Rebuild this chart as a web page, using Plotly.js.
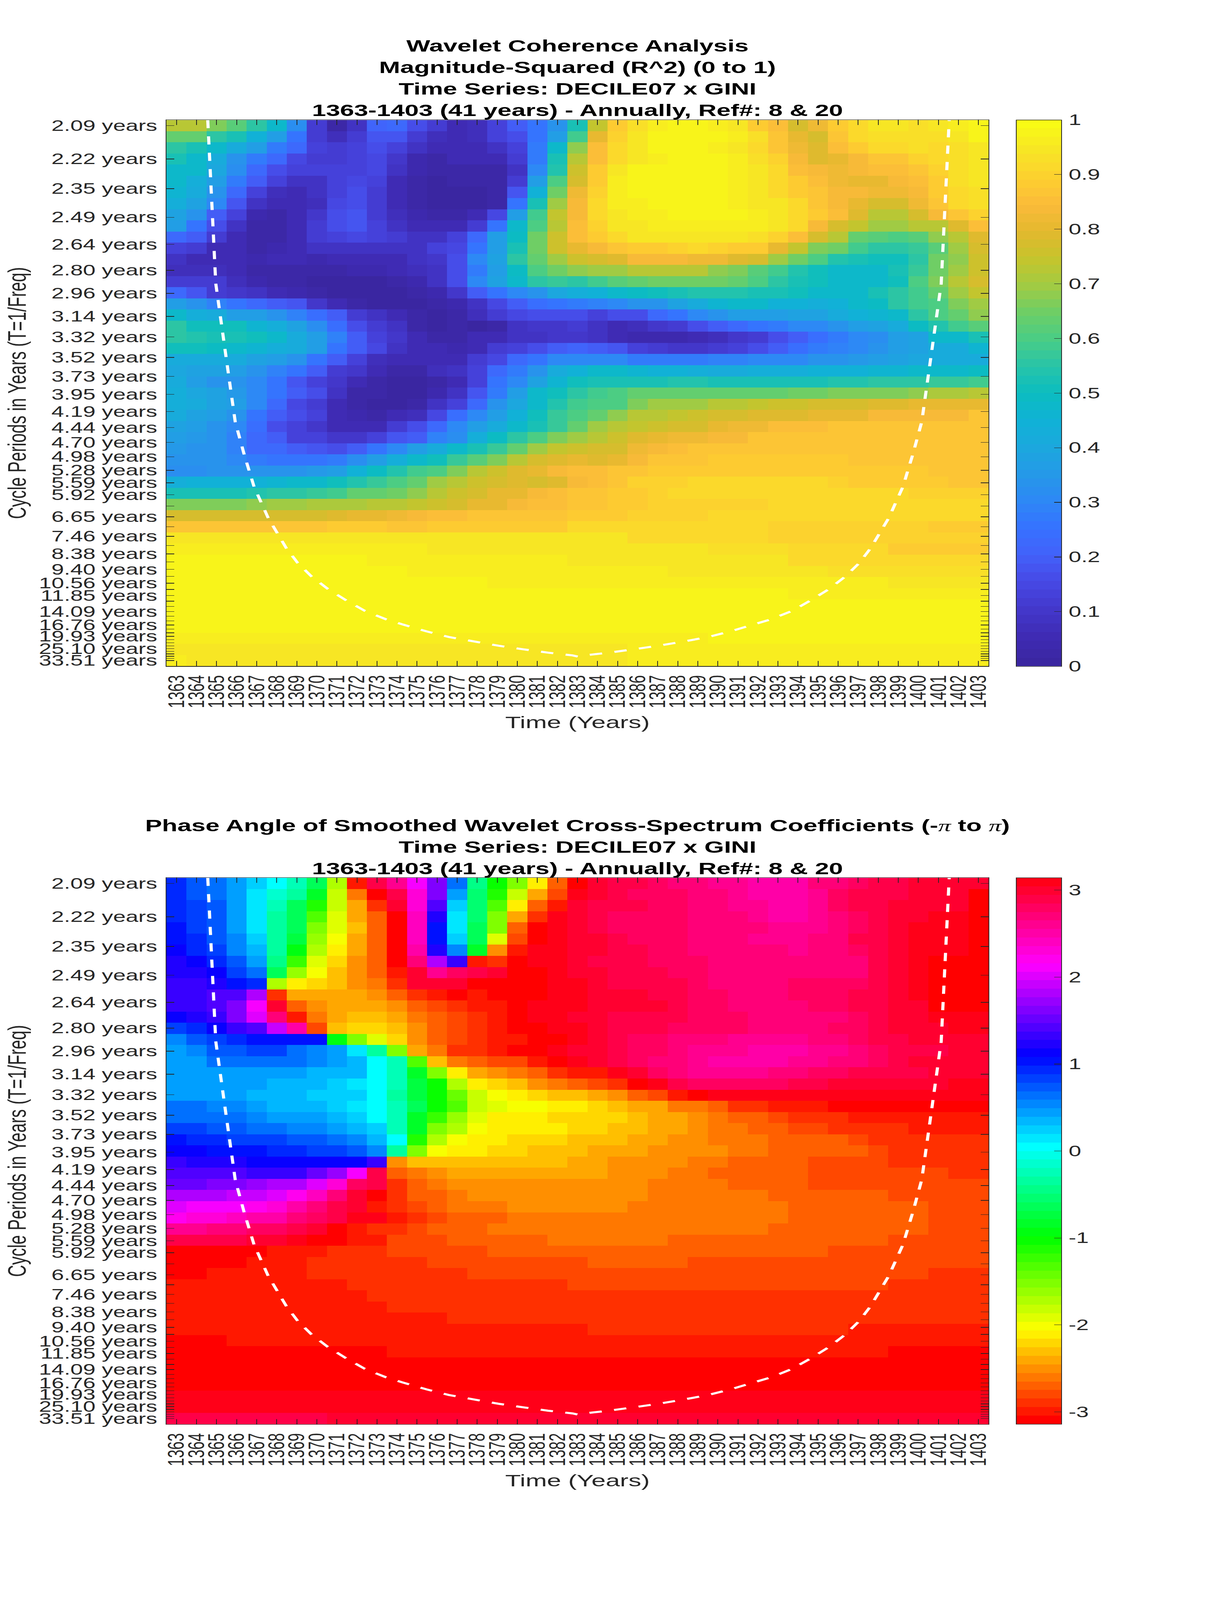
<!DOCTYPE html>
<html>
<head>
<meta charset="utf-8">
<script src="https://cdn.plot.ly/plotly-3.0.1.min.js"></script>
<style>
html,body{margin:0;padding:0;background:#fff;}
#page{width:3125px;height:6252px;transform-origin:0 0;}
#chartA,#chartB{display:block;width:3125px;height:3126px;}
</style>
</head>
<body>
<div id="page">
<div id="chartA"></div>
<div id="chartB"></div>
</div>
<script>
// Time axis (years)
const years=[1363,1364,1365,1366,1367,1368,1369,1370,1371,1372,1373,1374,1375,1376,1377,1378,1379,1380,1381,1382,1383,1384,1385,1386,1387,1388,1389,1390,1391,1392,1393,1394,1395,1396,1397,1398,1399,1400,1401,1402,1403];
// Cycle periods (years) of the 49 wavelet scales
const periods=[2.09,2.22,2.35,2.49,2.64,2.80,2.96,3.14,3.32,3.52,3.73,3.95,4.19,4.44,4.70,4.98,5.28,5.59,5.92,6.27,6.65,7.04,7.46,7.91,8.38,8.88,9.40,9.96,10.56,11.18,11.85,12.55,13.30,14.09,14.93,15.82,16.76,17.76,18.81,19.93,21.12,22.37,23.70,25.10,26.60,28.18,29.86,31.63,33.51];
const labelledPeriods=[2.09,2.22,2.35,2.49,2.64,2.80,2.96,3.14,3.32,3.52,3.73,3.95,4.19,4.44,4.70,4.98,5.28,5.59,5.92,6.65,7.46,8.38,9.40,10.56,11.85,14.09,16.76,19.93,25.10,33.51];

// Cone of influence
const coiYears=[1364.56,1364.96,1365.47,1365.93,1366.37,1366.87,1367.57,1368.48,1369.05,1369.73,1370.55,1371.47,1372.40,1373.46,1374.25,1375.48,1376.59,1377.82,1379.06,1380.30,1381.53,1382.75,1383.05,1383.35,1384.57,1385.80,1387.04,1388.28,1389.51,1390.62,1391.85,1392.64,1393.70,1394.63,1395.55,1396.37,1397.05,1397.62,1398.53,1399.23,1399.73,1400.17,1400.63,1401.14,1401.54];
const coiFreq=[0.4832,0.3460,0.2848,0.2301,0.2031,0.1756,0.1496,0.1241,0.1116,0.1005,0.0899,0.0803,0.0715,0.0644,0.0603,0.0543,0.0496,0.0458,0.0423,0.0393,0.0365,0.0342,0.0331,0.0342,0.0365,0.0393,0.0423,0.0458,0.0496,0.0543,0.0603,0.0644,0.0715,0.0803,0.0899,0.1005,0.1116,0.1241,0.1496,0.1756,0.2031,0.2301,0.2848,0.3460,0.4832];

// Magnitude-squared coherence, percent; one row per scale, top to bottom
const coh01=[73,72,67,62,56,47,32,12,3,9,21,22,16,11,5,7,13,20,25,33,52,74,88,93,96,97,97,96,95,88,85,78,82,88,92,94,94,93,94,96,98];
const coh02=[64,63,56,52,44,36,25,12,7,12,18,18,12,7,5,7,13,17,26,37,59,80,90,94,97,97,97,97,96,93,87,80,78,86,92,93,93,93,93,95,97];
const coh03=[56,52,47,42,36,28,22,13,11,13,16,14,8,6,6,5,9,14,27,47,68,85,91,94,97,97,97,96,95,92,87,82,79,85,89,91,92,93,92,93,95];
const coh04=[53,47,41,33,28,23,15,12,12,14,15,10,4,3,5,5,5,11,27,53,72,85,92,94,96,98,98,97,96,93,90,83,79,81,84,87,87,90,91,93,95];
const coh05=[48,47,40,32,23,17,14,14,13,14,15,9,4,2,3,3,3,9,30,54,75,89,95,97,98,98,98,97,96,95,91,85,83,82,83,85,85,87,90,93,95];
const coh06=[47,43,36,27,20,13,9,9,13,15,13,6,3,1,2,3,3,12,36,60,78,89,96,97,97,97,97,97,96,94,92,88,85,82,81,81,84,85,89,93,95];
const coh07=[46,41,33,23,14,7,6,9,14,16,12,6,3,1,1,1,2,18,45,65,82,90,96,97,97,98,98,97,96,94,92,89,87,84,83,82,82,84,89,92,93];
const coh08=[43,38,31,18,9,5,5,7,15,17,11,6,3,1,1,1,3,25,52,70,84,91,96,96,97,97,97,97,96,95,94,91,87,83,80,77,77,82,87,91,93];
const coh09=[39,33,20,13,4,2,5,10,16,18,12,7,4,3,3,6,15,37,58,74,84,91,95,96,96,97,97,97,97,96,95,92,88,85,79,73,73,77,83,86,90];
const coh10=[36,26,16,9,2,2,5,11,16,18,13,8,5,5,5,12,25,47,60,73,85,90,94,95,96,96,96,96,96,96,94,92,84,77,74,70,69,72,73,79,85];
const coh11=[22,19,11,5,2,2,6,12,14,15,13,12,8,8,13,23,37,49,65,76,85,88,92,94,94,94,94,94,94,93,90,85,77,72,64,62,60,61,68,73,79];
const coh12=[13,12,6,5,3,4,6,8,9,9,9,8,8,13,15,25,37,53,65,76,80,84,87,88,89,90,91,90,89,89,80,74,67,65,58,56,55,57,62,70,78];
const coh13=[9,6,5,5,4,5,5,4,5,6,6,6,8,10,17,30,38,56,64,70,75,78,79,83,83,83,82,82,79,77,70,65,60,54,53,51,50,55,65,68,76];
const coh14=[7,7,7,5,2,2,3,3,3,4,4,5,7,9,16,28,37,49,60,65,68,70,70,72,72,72,72,68,67,62,58,54,50,47,47,47,52,57,65,70,76];
const coh15=[12,12,11,7,4,3,2,1,1,1,1,3,4,8,17,30,39,47,55,57,56,58,62,64,65,65,65,65,63,60,56,53,50,48,48,48,50,60,67,72,78];
const coh16=[22,18,12,10,8,6,4,2,1,1,1,1,2,4,10,20,26,30,34,40,43,45,48,49,50,53,54,54,54,52,52,50,48,47,47,52,55,58,63,69,74];
const coh17=[36,34,29,26,23,20,18,10,6,3,1,1,1,3,4,8,15,20,24,25,28,29,31,34,34,38,42,46,47,47,45,44,43,45,47,49,55,58,60,66,70];
const coh18=[47,43,42,37,36,33,29,24,19,12,8,5,2,1,3,7,12,15,16,17,17,14,16,17,22,25,30,33,36,37,37,38,39,41,44,46,47,56,60,63,68];
const coh19=[55,50,50,50,46,43,38,32,24,17,12,8,3,1,2,1,3,8,10,10,11,8,6,7,10,12,16,20,22,26,28,30,31,33,36,39,42,49,54,58,61];
const coh20=[56,54,53,52,50,47,41,36,29,20,14,10,5,3,3,5,5,8,9,10,10,8,5,4,4,4,5,7,10,12,17,20,24,28,30,32,36,39,48,48,53];
const coh21=[50,50,49,48,46,43,41,37,26,20,15,9,5,5,4,6,12,14,17,20,21,20,18,14,12,10,10,12,14,16,20,24,27,29,31,34,36,38,41,42,46];
const coh22=[42,42,42,41,38,36,33,26,19,14,7,5,5,5,6,12,15,22,26,30,31,31,30,28,28,27,27,29,29,30,30,31,33,33,35,37,38,40,41,41,42];
const coh23=[40,39,38,36,33,29,25,20,12,10,5,2,3,7,8,13,23,28,34,41,44,47,48,46,45,44,43,42,42,43,43,43,44,44,45,46,46,47,47,47,49];
const coh24=[42,37,34,33,30,26,18,14,10,6,3,1,1,3,6,14,26,31,39,46,50,52,53,53,53,54,54,53,53,52,52,53,53,54,54,55,55,56,57,57,59];
const coh25=[43,40,38,35,30,26,20,16,8,3,2,1,1,4,9,18,27,37,47,50,56,58,60,64,64,64,63,63,63,63,63,65,65,66,67,67,67,68,71,71,73];
const coh26=[43,41,38,37,30,22,15,12,5,2,1,1,2,9,14,22,33,40,47,54,58,60,60,66,69,70,70,72,73,74,75,76,77,77,78,79,79,80,80,80,81];
const coh27=[41,38,36,33,26,20,17,13,5,4,2,6,7,15,24,30,37,44,50,57,60,63,68,72,73,74,75,77,77,79,79,79,81,81,81,84,84,84,84,84,86];
const coh28=[38,36,34,30,24,17,13,10,6,6,6,12,16,23,30,37,42,48,52,57,63,69,72,74,75,77,78,80,82,82,85,85,85,86,86,86,86,86,86,87,87];
const coh29=[37,35,33,29,22,19,14,13,10,10,13,18,20,29,32,43,49,55,60,66,70,72,76,79,80,82,82,84,84,86,86,86,87,87,87,87,87,87,87,87,86];
const coh30=[35,34,33,29,23,22,20,18,17,20,25,30,37,41,47,53,57,63,69,74,76,77,78,82,84,85,86,87,87,87,87,87,87,87,87,87,87,87,87,86,86];
const coh31=[34,33,33,31,27,26,26,25,27,32,36,43,47,50,57,61,67,72,77,79,81,79,80,83,86,86,86,88,89,89,89,89,89,89,87,87,87,87,87,87,86];
const coh32=[32,32,33,34,34,34,34,35,37,44,49,54,59,60,66,72,76,79,80,84,85,85,87,87,89,89,89,89,89,89,89,89,89,89,89,89,89,88,87,87,86];
const coh33=[43,44,44,45,45,46,47,48,50,54,57,60,64,69,72,75,77,79,77,79,83,85,86,90,90,90,91,91,91,91,91,91,91,90,89,89,89,89,88,87,87];
const coh34=[53,53,53,53,54,55,56,57,59,63,63,65,68,72,75,77,80,81,83,85,87,87,88,89,90,91,91,91,91,91,91,91,91,91,91,91,91,90,90,90,90];
const coh35=[66,66,66,67,68,69,70,71,71,71,72,73,74,75,77,80,81,83,85,85,87,87,89,89,90,90,90,90,90,90,91,91,91,91,91,91,91,91,91,91,91];
const coh36=[77,77,77,77,77,77,77,78,79,80,81,82,84,85,85,86,87,87,87,87,88,88,89,90,90,90,90,92,92,92,92,92,92,91,91,91,91,91,91,91,91];
const coh37=[86,86,86,86,86,86,86,86,88,88,88,87,87,89,89,89,89,89,89,89,91,91,91,91,91,91,91,91,91,91,90,90,90,90,90,90,90,90,88,88,88];
const coh38=[94,94,94,94,94,94,94,94,94,94,94,94,94,94,94,94,94,94,94,94,94,94,94,92,92,92,92,92,92,92,90,90,90,90,90,90,90,90,90,90,90];
const coh39=[96,96,96,96,96,96,96,96,96,96,96,96,96,95,95,95,95,95,95,95,95,94,94,94,94,94,94,93,93,93,93,91,91,91,91,91,89,89,89,89,89];
const coh40=[98,98,98,98,98,98,98,98,98,98,96,96,96,96,96,96,96,96,96,96,95,95,95,95,95,95,94,94,94,94,94,92,92,92,92,92,92,92,91,91,91];
const coh41=[98,98,98,98,98,98,98,98,98,98,98,98,96,96,96,96,96,96,96,96,96,96,96,96,96,95,95,95,95,95,95,95,95,93,93,93,93,93,93,93,93];
const coh42=[98,98,98,98,98,98,98,98,98,98,98,98,98,98,98,98,96,96,96,96,96,96,96,96,96,96,96,96,96,96,96,96,96,96,96,96,95,95,95,95,95];
const coh43=[98,98,98,98,98,98,98,98,98,98,98,98,98,98,98,98,98,98,98,98,98,98,98,98,98,98,98,98,98,98,98,96,96,96,96,96,96,96,96,96,96];
const coh44=[98,98,98,98,98,98,98,98,98,98,98,98,98,98,98,98,98,98,98,98,98,98,98,98,98,98,98,98,98,98,98,98,98,98,98,98,98,98,98,98,98];
const coh45=[98,98,98,98,98,98,98,98,98,98,98,98,98,98,98,98,98,98,98,98,98,98,98,98,98,98,98,98,98,98,98,98,98,98,98,98,98,98,98,98,98];
const coh46=[98,98,98,98,98,98,98,98,98,98,98,98,98,98,98,98,98,98,98,98,98,98,98,98,98,98,98,98,98,98,98,98,98,98,98,98,98,98,98,98,98];
const coh47=[96,96,96,96,96,96,96,96,96,96,96,96,96,96,96,96,96,96,96,96,96,96,96,96,96,96,96,98,98,98,98,98,98,98,98,98,98,98,98,98,98];
const coh48=[95,95,95,95,95,95,95,95,95,95,95,95,95,95,95,95,95,95,95,95,95,95,95,96,96,96,96,96,96,96,96,96,96,96,96,96,96,96,96,96,96];
const coh49=[96,94,94,94,94,94,94,94,94,94,94,94,94,94,94,94,94,94,94,94,94,94,94,96,96,96,96,96,96,96,96,96,96,96,96,96,96,96,96,96,96];

// Phase angle, tenths of a radian; one row per scale, top to bottom
const pha01=[9,7,6,4,2,0,-2,-6,-17,-30,29,26,21,16,6,-4,-10,-15,-21,-27,-31,30,29,29,28,27,27,26,26,25,25,25,27,27,28,29,29,30,30,30,30];
const pha02=[9,7,6,4,1,-1,-3,-8,-18,-26,-31,29,23,16,4,-5,-11,-18,-24,-28,31,30,29,28,28,28,27,27,26,25,25,25,26,28,29,29,29,30,30,30,-31];
const pha03=[9,8,7,4,1,-2,-6,-11,-18,-24,-29,30,23,14,2,-5,-13,-21,-27,-30,30,29,29,29,28,28,27,27,26,26,25,25,26,28,29,29,30,30,30,30,-31];
const pha04=[9,8,7,4,1,-3,-6,-13,-19,-24,-27,-31,24,12,1,-5,-15,-24,-29,31,30,29,28,28,28,28,27,27,27,26,25,25,26,27,28,29,30,30,31,31,-31];
const pha05=[10,8,7,4,1,-3,-6,-15,-19,-23,-27,-31,24,10,1,-6,-15,-27,-31,31,30,29,28,28,28,28,27,27,27,27,26,26,26,27,28,29,30,31,31,31,-31];
const pha06=[10,9,7,5,2,-3,-7,-16,-20,-24,-27,-31,24,10,2,-6,-19,-28,-31,31,30,30,29,28,28,28,27,27,27,26,26,26,27,27,29,29,30,31,31,31,-31];
const pha07=[11,9,8,5,3,-3,-9,-17,-21,-24,-27,-31,25,12,5,-8,-25,-30,31,31,30,30,29,29,28,28,27,27,27,27,27,26,27,27,28,29,30,31,31,31,-31];
const pha08=[12,11,9,7,4,-4,-12,-19,-22,-25,-27,-31,27,18,13,-30,-29,-31,31,31,30,29,29,29,28,28,28,27,27,27,27,27,27,27,27,29,30,31,-31,-31,-31];
const pha09=[12,12,11,8,6,-6,-16,-20,-23,-25,-27,-30,30,26,28,29,30,-31,-31,31,30,30,29,29,29,28,28,27,27,27,27,27,27,27,27,29,30,31,-31,-31,-31];
const pha10=[13,13,12,10,9,-17,-21,-22,-23,-25,-26,-29,30,30,30,-31,-31,-31,-31,31,31,30,29,29,29,29,28,27,27,27,27,28,28,28,28,29,30,31,-31,-31,-31];
const pha11=[13,13,14,14,18,-29,-24,-24,-24,-24,-25,-27,-29,-30,-31,-30,-31,-31,-31,31,31,30,30,30,29,29,28,28,27,27,27,28,28,28,29,29,30,31,-31,-31,-31];
const pha12=[13,13,14,16,21,30,-27,-25,-24,-24,-24,-25,-27,-28,-29,-30,-30,-31,31,31,31,30,30,30,30,29,28,28,27,27,27,27,28,28,29,29,30,30,-31,-31,-31];
const pha13=[11,12,13,16,20,27,-30,-26,-24,-23,-23,-24,-26,-27,-28,-29,-30,-31,31,31,30,30,29,29,29,29,28,28,28,27,27,27,27,27,28,29,30,30,31,31,31];
const pha14=[8,9,11,13,14,19,25,-28,-23,-22,-22,-23,-25,-27,-28,-29,-30,-31,-31,31,31,30,29,29,29,28,28,28,28,27,27,27,27,28,28,29,30,30,30,31,31];
const pha15=[5,7,8,9,10,10,10,10,-9,-15,-19,-22,-25,-27,-28,-29,-30,-30,-31,-31,31,30,29,28,28,27,27,27,26,26,26,26,27,27,28,29,29,30,30,30,30];
const pha16=[4,5,7,7,8,8,6,5,4,1,-3,-15,-24,-26,-29,-29,-30,-31,-31,31,30,30,29,28,28,27,26,26,26,25,25,25,26,26,27,28,29,29,29,30,30];
const pha17=[4,4,6,6,6,6,6,5,4,3,0,-2,-13,-23,-26,-27,-28,-28,-30,-31,31,30,29,28,27,27,26,25,25,25,25,26,26,27,27,28,29,30,30,30,30];
const pha18=[4,4,4,4,4,4,4,3,3,3,0,-2,-8,-15,-21,-24,-25,-26,-27,-29,-30,-30,31,30,28,27,26,26,26,26,27,27,28,28,29,29,29,29,30,30,30];
const pha19=[4,4,4,4,4,3,3,3,2,1,0,-2,-7,-10,-17,-21,-22,-23,-25,-26,-27,-28,-29,-31,31,29,28,28,28,28,28,29,29,30,30,30,30,30,30,31,31];
const pha20=[4,4,4,4,3,3,3,2,2,2,0,-3,-7,-10,-14,-18,-20,-21,-22,-23,-23,-24,-25,-27,-28,-30,-31,31,31,31,31,31,31,31,31,31,31,31,31,31,31];
const pha21=[6,6,5,5,4,3,3,3,2,1,0,-2,-6,-10,-13,-18,-19,-20,-20,-21,-21,-22,-23,-24,-24,-26,-26,-27,-29,-29,-30,-30,-30,-31,-31,-31,-31,-31,-31,-31,-31];
const pha22=[6,6,6,6,5,4,4,4,3,2,0,-2,-8,-12,-16,-19,-21,-21,-21,-22,-22,-22,-22,-23,-24,-24,-25,-26,-27,-27,-28,-29,-29,-29,-30,-30,-30,-30,-30,-30,-30];
const pha23=[8,8,7,7,6,6,5,5,4,3,2,-2,-8,-15,-17,-20,-21,-21,-21,-21,-22,-22,-23,-23,-24,-24,-25,-26,-26,-27,-27,-28,-28,-29,-29,-29,-29,-30,-30,-30,-30];
const pha24=[10,9,9,8,8,8,7,7,6,5,3,0,-11,-17,-20,-21,-21,-22,-22,-22,-23,-23,-23,-24,-24,-25,-25,-26,-26,-26,-27,-27,-27,-27,-28,-29,-29,-29,-29,-29,-29];
const pha25=[11,11,10,10,10,9,9,8,8,7,5,-3,-15,-20,-21,-21,-22,-22,-23,-23,-23,-24,-24,-24,-25,-25,-25,-25,-26,-26,-27,-27,-27,-27,-27,-28,-29,-29,-29,-29,-29];
const pha26=[13,12,12,12,11,11,11,11,11,11,13,-25,-23,-23,-23,-23,-23,-23,-23,-23,-24,-24,-25,-25,-25,-25,-26,-26,-27,-27,-27,-27,-28,-28,-28,-28,-29,-29,-29,-29,-29];
const pha27=[14,14,14,14,13,13,13,15,17,21,29,-27,-26,-25,-24,-24,-24,-24,-24,-24,-24,-24,-25,-25,-25,-26,-26,-27,-27,-27,-27,-27,-28,-28,-28,-28,-28,-28,-28,-29,-29];
const pha28=[15,15,16,16,17,18,18,20,23,28,29,-29,-27,-26,-25,-25,-25,-25,-25,-25,-25,-25,-25,-25,-26,-26,-26,-26,-27,-27,-27,-27,-28,-28,-28,-28,-28,-28,-28,-28,-28];
const pha29=[18,18,18,19,19,20,22,24,27,30,-31,-29,-27,-27,-26,-25,-25,-25,-25,-25,-25,-25,-25,-25,-26,-26,-26,-26,-26,-26,-27,-27,-27,-27,-27,-27,-28,-28,-28,-28,-28];
const pha30=[20,21,21,21,22,23,25,27,29,30,-30,-29,-28,-27,-26,-26,-26,-25,-25,-25,-25,-25,-25,-26,-26,-26,-26,-26,-26,-26,-26,-27,-27,-27,-27,-27,-27,-27,-28,-28,-28];
const pha31=[22,23,23,24,25,25,27,28,29,31,31,-30,-29,-28,-27,-27,-27,-26,-26,-26,-26,-26,-26,-26,-26,-26,-26,-26,-26,-26,-26,-27,-27,-27,-27,-27,-27,-27,-28,-28,-28];
const pha32=[26,26,27,27,28,28,29,30,-31,-30,-29,-29,-28,-27,-27,-27,-26,-26,-26,-26,-26,-26,-26,-26,-26,-26,-26,-26,-26,-26,-27,-27,-27,-27,-27,-27,-27,-27,-28,-28,-28];
const pha33=[29,29,29,29,30,30,31,-31,-31,-30,-30,-28,-28,-28,-27,-27,-27,-27,-27,-26,-26,-26,-26,-26,-26,-27,-27,-27,-27,-27,-27,-27,-27,-27,-27,-27,-28,-28,-28,-28,-28];
const pha34=[-31,-31,-31,-31,-31,-30,-30,-30,-29,-29,-29,-28,-28,-28,-28,-28,-27,-27,-27,-27,-27,-27,-27,-27,-27,-27,-27,-27,-27,-27,-27,-27,-27,-28,-28,-28,-28,-28,-28,-28,-28];
const pha35=[-31,-31,-31,-31,-30,-30,-30,-29,-29,-29,-29,-29,-29,-28,-28,-28,-28,-28,-28,-28,-28,-27,-27,-27,-27,-27,-28,-28,-28,-28,-28,-28,-28,-28,-28,-28,-28,-28,-28,-28,-28];
const pha36=[-31,-31,-30,-30,-30,-30,-30,-29,-29,-29,-29,-29,-29,-29,-29,-28,-28,-28,-28,-28,-28,-28,-28,-28,-28,-28,-28,-28,-28,-28,-28,-28,-28,-28,-28,-28,-28,-28,-29,-29,-29];
const pha37=[-30,-30,-30,-30,-30,-30,-30,-30,-30,-29,-29,-29,-29,-29,-29,-29,-29,-29,-29,-29,-28,-28,-28,-28,-28,-28,-28,-28,-28,-28,-28,-28,-28,-28,-28,-28,-29,-29,-29,-29,-29];
const pha38=[-30,-30,-30,-30,-30,-30,-30,-30,-30,-30,-29,-29,-29,-29,-29,-29,-29,-29,-29,-29,-29,-29,-29,-29,-29,-29,-29,-29,-29,-29,-29,-29,-29,-29,-29,-29,-29,-29,-29,-29,-29];
const pha39=[-30,-30,-30,-30,-30,-30,-30,-30,-30,-30,-30,-29,-29,-29,-29,-29,-29,-29,-29,-29,-29,-29,-29,-29,-29,-29,-29,-29,-29,-29,-29,-29,-29,-29,-29,-29,-29,-29,-29,-29,-29];
const pha40=[-30,-30,-30,-30,-30,-30,-30,-30,-30,-30,-30,-30,-30,-30,-29,-29,-29,-29,-29,-29,-29,-29,-29,-29,-29,-29,-29,-29,-29,-29,-29,-29,-29,-29,-29,-29,-29,-29,-29,-29,-29];
const pha41=[-30,-30,-30,-30,-30,-30,-30,-30,-30,-30,-30,-30,-30,-30,-30,-30,-30,-30,-30,-30,-30,-29,-29,-29,-29,-29,-29,-29,-29,-29,-29,-29,-29,-29,-30,-30,-30,-30,-30,-30,-30];
const pha42=[-31,-31,-31,-30,-30,-30,-30,-30,-30,-30,-30,-30,-30,-30,-30,-30,-30,-30,-30,-30,-30,-30,-30,-30,-30,-30,-30,-30,-30,-30,-30,-30,-30,-30,-30,-30,-30,-30,-30,-30,-30];
const pha43=[-31,-31,-31,-31,-31,-31,-31,-31,-31,-31,-31,-30,-30,-30,-30,-30,-30,-30,-30,-30,-30,-30,-30,-30,-30,-30,-30,-30,-30,-30,-30,-30,-30,-30,-30,-30,-31,-31,-31,-31,-31];
const pha44=[-31,-31,-31,-31,-31,-31,-31,-31,-31,-31,-31,-31,-31,-31,-31,-31,-31,-31,-31,-31,-31,-31,-31,-31,-31,-31,-31,-31,-31,-31,-31,-31,-31,-31,-31,-31,-31,-31,-31,-31,-31];
const pha45=[-31,-31,-31,-31,-31,-31,-31,-31,-31,-31,-31,-31,-31,-31,-31,-31,-31,-31,-31,-31,-31,-31,-31,-31,-31,-31,-31,-31,-31,-31,-31,-31,-31,-31,-31,-31,-31,-31,-31,-31,-31];
const pha46=[-31,-31,-31,-31,-31,-31,-31,-31,-31,-31,-31,-31,-31,-31,-31,-31,-31,-31,-31,-31,-31,-31,-31,-31,-31,-31,-31,-31,-31,-31,-31,-31,-31,-31,-31,-31,-31,-31,-31,-31,-31];
const pha47=[31,31,31,31,31,31,31,31,31,31,31,31,31,31,31,31,31,31,31,31,31,31,31,31,31,31,31,31,31,31,31,31,31,31,31,31,31,31,31,31,31];
const pha48=[31,31,31,31,31,31,31,31,31,31,31,31,31,31,31,31,31,31,31,31,31,31,31,31,31,31,31,31,31,31,31,31,31,31,31,31,31,31,31,31,31];
const pha49=[29,29,29,29,29,29,29,29,30,30,30,30,30,30,30,30,30,30,30,30,30,30,30,30,30,30,30,30,30,30,30,30,30,30,30,30,30,30,30,30,30];

const cohRows=[coh01,coh02,coh03,coh04,coh05,coh06,coh07,coh08,coh09,coh10,coh11,coh12,coh13,coh14,coh15,coh16,coh17,coh18,coh19,coh20,coh21,coh22,coh23,coh24,coh25,coh26,coh27,coh28,coh29,coh30,coh31,coh32,coh33,coh34,coh35,coh36,coh37,coh38,coh39,coh40,coh41,coh42,coh43,coh44,coh45,coh46,coh47,coh48,coh49];
const phaRows=[pha01,pha02,pha03,pha04,pha05,pha06,pha07,pha08,pha09,pha10,pha11,pha12,pha13,pha14,pha15,pha16,pha17,pha18,pha19,pha20,pha21,pha22,pha23,pha24,pha25,pha26,pha27,pha28,pha29,pha30,pha31,pha32,pha33,pha34,pha35,pha36,pha37,pha38,pha39,pha40,pha41,pha42,pha43,pha44,pha45,pha46,pha47,pha48,pha49];

// Colormap anchors of the coherence panel (every 0.05)
const parulaAnchors=['#3a26a1','#3f2bb5','#4338cc','#4749e6','#4262fa','#3672ff','#2d88f5','#2599e8','#1ba8dd','#10b2d6','#0bbdc0','#28c4a8','#4acd85','#6ece66','#a2cb43','#c6c42c','#e3b82e','#fbbb3a','#fdd02f','#f7e525','#f9fb15'];
const LEVELS=64;
function hex2(n){return ('0'+Math.round(n).toString(16)).slice(-2);}
function parulaLevel(i){
  const t=i/(LEVELS-1)*(parulaAnchors.length-1), a=Math.min(Math.floor(t),parulaAnchors.length-2), f=t-a;
  const p=parseInt(parulaAnchors[a].slice(1),16), q=parseInt(parulaAnchors[a+1].slice(1),16);
  const mix=s=>((p>>s)&255)*(1-f)+((q>>s)&255)*f;
  return '#'+hex2(mix(16))+hex2(mix(8))+hex2(mix(0));
}
function hsvLevel(i){
  const h=i/LEVELS*6, k=Math.floor(h), f=h-k;
  const rgb=[[1,f,0],[1-f,1,0],[0,1,f],[0,1-f,1],[f,0,1],[1,0,1-f]][k];
  return '#'+rgb.map(v=>hex2(v*255)).join('');
}
function stepped(fn){
  const s=[];
  for(let i=0;i<LEVELS;i++){const c=fn(i);s.push([i/LEVELS,c]);s.push([(i+1)/LEVELS,c]);}
  return s;
}

const FONT='"Liberation Sans", Arial, sans-serif';
const INK='#262626';
const HAIR='\u200A';
const fTop=1/periods[0], fBot=1/periods[periods.length-1];
const rowStep=(fTop-fBot)/(periods.length-1);
const rowFreq=periods.map((_,i)=>fTop-i*rowStep);   // image rows are evenly spaced between the first and last frequency

function panel(id,z,zmin,zmax,scale,cbVals,cbText,titleText,top,bottom,titleTop){
  const traces=[
    {type:'heatmap',x:years,y:rowFreq,z:z,zmin:zmin,zmax:zmax,colorscale:scale,zsmooth:false,hoverinfo:'skip',
     colorbar:{x:(2600.5-426)/2104,xanchor:'left',xpad:0,ypad:0,y:0.5,yanchor:'middle',
       thickness:116,thicknessmode:'pixels',len:2135,lenmode:'pixels',
       tickmode:'array',tickvals:cbVals,ticktext:cbText.map(t=>HAIR+t),ticks:'inside',ticklen:20,tickwidth:2,tickcolor:INK,
       tickfont:{family:FONT,size:58,color:INK},outlinecolor:INK,outlinewidth:2,borderwidth:0}},
    {type:'scatter',mode:'lines',x:coiYears,y:coiFreq,hoverinfo:'skip',showlegend:false,
     line:{color:'#ffffff',width:8,dash:'32px,32px'}}
  ];
  const layout={
    width:3125,height:3126,paper_bgcolor:'#ffffff',plot_bgcolor:'#ffffff',showlegend:false,
    font:{family:FONT,color:INK},
    margin:{l:426,r:595,t:top,b:bottom,pad:0,autoexpand:false},
    title:{text:titleText,x:(426+1052)/3125,xanchor:'center',y:1-titleTop/3126,yref:'container',yanchor:'top',
      font:{family:FONT,size:64.7,color:'#000000',weight:700}},
    xaxis:{range:[1362.5,1403.5],tickmode:'array',tickvals:years,ticktext:years.map(String),tickangle:-90,
      ticks:'inside',ticklen:20,tickwidth:2,tickcolor:INK,showline:true,linecolor:INK,linewidth:2,mirror:'allticks',
      showgrid:false,zeroline:false,tickfont:{family:FONT,size:58,color:INK},ticklabelstandoff:10,
      title:{text:'Time (Years)',font:{family:FONT,size:65.5,color:INK},standoff:33}},
    yaxis:{range:[fBot-rowStep/2,fTop+rowStep/2],tickmode:'array',tickvals:periods.map(T=>1/T),
      ticktext:periods.map(T=>labelledPeriods.includes(T)?T.toFixed(2)+' years':''),
      ticks:'inside',ticklen:20,tickwidth:2,tickcolor:INK,showline:true,linecolor:INK,linewidth:2,mirror:'allticks',
      showgrid:false,zeroline:false,tickfont:{family:FONT,size:58,color:INK},ticklabelstandoff:10,
      title:{text:'Cycle Periods in Years (T=1/Freq)',font:{family:FONT,size:65.5,color:INK},standoff:11}}
  };
  return Plotly.newPlot(id,traces,layout,{staticPlot:true,displayModeBar:false});
}

const PI_MARK='<span style="font-family:\'Liberation Serif\',serif;font-style:italic;font-weight:400">π</span>';
const drawn=[
panel('chartA',cohRows.map(r=>r.map(v=>v/100)),0,1,stepped(parulaLevel),
  [0,0.1,0.2,0.3,0.4,0.5,0.6,0.7,0.8,0.9,1],['0','0.1','0.2','0.3','0.4','0.5','0.6','0.7','0.8','0.9','1'],
  'Wavelet Coherence Analysis<br>Magnitude-Squared (R^2) (0 to 1)<br>Time Series: DECILE07 x GINI<br>1363-1403 (41 years) - Annually, Ref#: 8 & 20',
  469,523,201),
panel('chartB',phaRows.map(r=>r.map(v=>v/10)),-Math.PI,Math.PI,stepped(hsvLevel),
  [-3,-2,-1,0,1,2,3],['-3','-2','-1','0','1','2','3'],
  'Phase Angle of Smoothed Wavelet Cross-Spectrum Coefficients (-'+PI_MARK+' to '+PI_MARK+')<br>Time Series: DECILE07 x GINI<br>1363-1403 (41 years) - Annually, Ref#: 8 & 20',
  304,687,122)
];
// Fit the full page height into the window when the window is shorter than the page
Promise.all(drawn).then(()=>{
  const k=Math.min(1,window.innerHeight/6252);
  if(k<1){
    document.getElementById('page').style.transform='scaleY('+k+')';
    document.documentElement.style.height=window.innerHeight+'px';
    document.documentElement.style.overflow='hidden';
    document.body.style.height=window.innerHeight+'px';
    document.body.style.overflow='hidden';
  }
});
</script>
</body>
</html>
